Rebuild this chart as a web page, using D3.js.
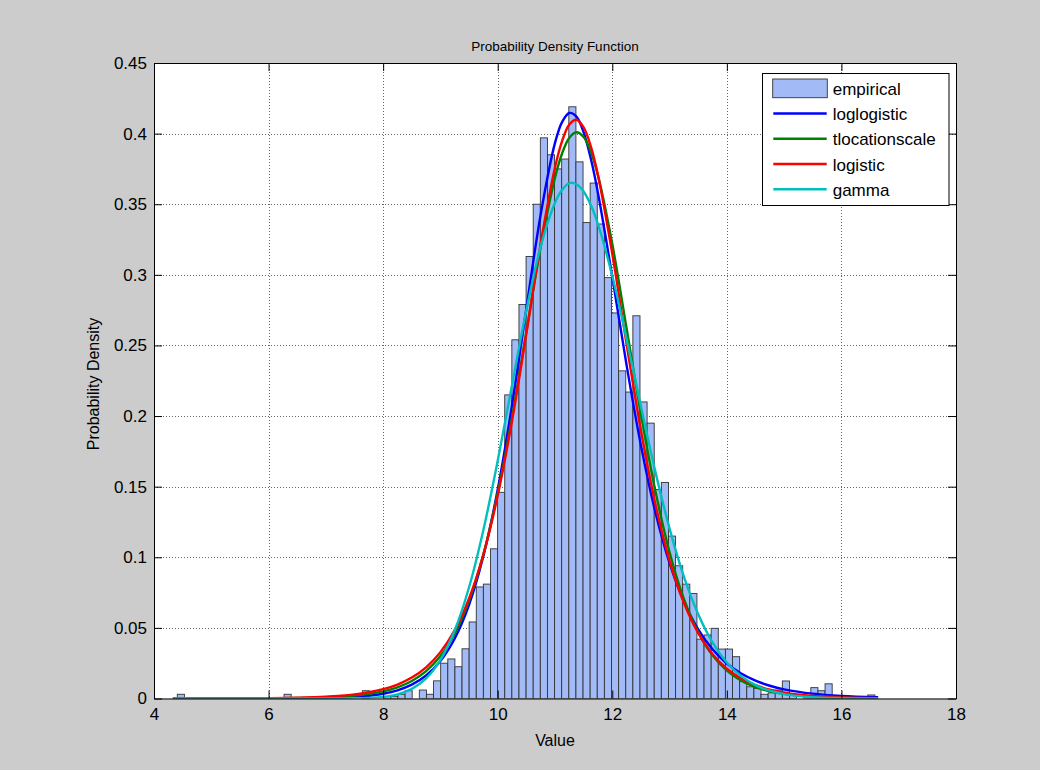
<!DOCTYPE html>
<html><head><meta charset="utf-8">
<script src="https://cdn.jsdelivr.net/npm/d3@7"></script>
<style>
html,body{margin:0;padding:0;background:#fff;}
svg{display:block;font-family:"Liberation Sans",Arial,Helvetica,sans-serif;}
</style></head><body>
<svg id="chart" width="1052" height="780"></svg>
<script>
// ---------- data ----------
const binStart = 4.4066;
const binWidth = 0.12426;
const binDensity = [
  0.003,0,0,0,0,0,0,0,0,0,
  0,0,0,0,0,0.003,0,0,0,0,
  0,0,0,0,0,0,0.0055,0,0,0.0015,
  0.0015,0.003,0.0055,0,0.006,0.003,0.0125,0.025,0.028,0.0225,
  0.0352,0.0542,0.079,0.081,0.106,0.146,0.215,0.254,0.279,0.313,
  0.350,0.397,0.385,0.375,0.382,0.419,0.380,0.337,0.365,0.336,
  0.298,0.273,0.232,0.217,0.271,0.21,0.195,0.148,0.153,0.115,
  0.094,0.081,0.0744,0.042,0.045,0.0497,0.035,0.035,0.0296,0.012,
  0.0083,0.0072,0.003,0.004,0.006,0.0124,0.003,0,0.002,0.0077,
  0.0055,0.0104,0.001,0,0,0,0,0.0025
];
const fitX = [4.33,5,5.5,6,6.5,7,7.5,7.75,8,8.25,8.5,8.75,9,9.25,9.5,9.75,10,10.25,10.5,10.75,
  11,11.125,11.25,11.375,11.5,11.625,11.75,12,12.25,12.5,12.75,13,13.25,13.5,13.75,14,14.25,14.5,14.75,15,15.5,16,16.64];
const loglogisticY = [0,0.000001,0.000004,0.00002,0.00008,0.00031,0.00107,0.00191,0.00336,0.00579,
  0.0098,0.01628,0.02659,0.04252,0.06638,0.10088,0.14798,0.20778,0.27604,0.34275,
  0.39345,0.4083,0.4146,0.412,0.4009,0.38237,0.35797,0.29859,0.23597,0.17917,0.1323,0.09588,0.06874,
  0.04898,0.03482,0.02476,0.01764,0.01261,0.00904,0.00651,0.00342,0.00183,0.00085];
const tlocationscaleY = [0.000016,0.000041,0.000083,0.000176,0.00039,0.00089,0.00209,0.00325,0.00506,0.00792,
  0.0124,0.01937,0.03004,0.04605,0.06941,0.1021,0.1455,0.1991,0.2596,0.3195,
  0.3688,0.3861,0.3971,0.401,0.3976,0.3872,0.3704,0.3218,0.262,0.2015,0.1475,0.1036,0.0705,
  0.0468,0.03056,0.0197,0.01264,0.00807,0.00515,0.0033,0.00138,0.00059,0.00021];
const logisticY = [0.000016,0.000048,0.00011,0.00025,0.00057,0.00129,0.00291,0.00439,0.0066,0.00989,
  0.01481,0.0221,0.03284,0.04847,0.07085,0.10196,0.14369,0.19668,0.25851,0.32225,
  0.37606,0.3949,0.40645,0.4098,0.40441,0.391,0.37058,0.31486,0.25086,0.18981,0.1381,0.09759,0.06773,
  0.04627,0.03133,0.02106,0.01411,0.00941,0.00628,0.00418,0.00185,0.00081,0.00029];
const gammaY = [0,0,0,0,0,0.000009,0.00013,0.00041,0.00116,0.00296,
  0.0068,0.01424,0.02735,0.04831,0.0788,0.11934,0.16832,0.22205,0.2749,0.32002,
  0.35111,0.36027,0.365,0.36413,0.35896,0.34937,0.33586,0.29923,0.25445,0.20687,0.16099,0.12032,0.0863,
  0.05967,0.03976,0.02551,0.01583,0.00951,0.00553,0.00312,0.00091,0.00024,0.00004];
const xTicks = [4,6,8,10,12,14,16,18];
const yTicks = [0,0.05,0.1,0.15,0.2,0.25,0.3,0.35,0.4,0.45];
const legendLabels = ["empirical","loglogistic","tlocationscale","logistic","gamma"];
const seriesColors = ["#0000ff","#008000","#ff0000","#00bfbf"];
const titleText = "Probability Density Function";
const xLabelText = "Value";
const yLabelText = "Probability Density";

// ---------- layout ----------
const svg = d3.select("#chart");
const L = 154, R = 956, T = 63, B = 698.5;
const barFill = "#a2baf6", barEdge = "#333333";
svg.append("rect").attr("x",0).attr("y",0).attr("width",1040).attr("height",770).attr("fill","#cccccc");
const x = d3.scaleLinear().domain([4,18]).range([L,R]);
const y = d3.scaleLinear().domain([0,0.45]).range([B,T]);
svg.append("rect").attr("x",L).attr("y",T).attr("width",R-L).attr("height",B-T).attr("fill","#ffffff");

svg.append("defs").append("clipPath").attr("id","plotclip")
  .append("rect").attr("x",L).attr("y",T).attr("width",R-L).attr("height",B-T);

// grid
const grid = svg.append("g").attr("stroke","#666").attr("stroke-width",1).attr("stroke-dasharray","1,2");
grid.selectAll("line.gx").data(xTicks.slice(1,-1)).join("line").attr("class","gx")
  .attr("x1",d=>Math.round(x(d))+0.5).attr("x2",d=>Math.round(x(d))+0.5).attr("y1",T).attr("y2",B);
grid.selectAll("line.gy").data(yTicks.slice(1,-1)).join("line").attr("class","gy")
  .attr("y1",d=>Math.round(y(d))+0.5).attr("y2",d=>Math.round(y(d))+0.5).attr("x1",L).attr("x2",R);

// bars
const bars = binDensity.map((d,i)=>({i,d})).filter(b=>b.d>0);
svg.append("g").attr("clip-path","url(#plotclip)")
  .selectAll("rect").data(bars).join("rect")
  .attr("x",b=>x(binStart+b.i*binWidth))
  .attr("width",b=>x(binStart+(b.i+1)*binWidth)-x(binStart+b.i*binWidth))
  .attr("y",b=>y(b.d))
  .attr("height",b=>B-y(b.d))
  .attr("fill",barFill).attr("stroke",barEdge).attr("stroke-width",0.9);

// curves
const line = d3.line().x((d,i)=>x(fitX[i])).y(d=>y(d)).curve(d3.curveCatmullRom.alpha(0.5));
const curveG = svg.append("g").attr("clip-path","url(#plotclip)");
[loglogisticY,tlocationscaleY,logisticY,gammaY].forEach((arr,k)=>{
  curveG.append("path").attr("d",line(arr)).attr("fill","none")
    .attr("stroke",seriesColors[k]).attr("stroke-width",2.4).attr("stroke-linejoin","round");
});

// axes
function styleAxis(g){
  g.select(".domain").attr("stroke","#000").attr("stroke-width",1);
  g.selectAll(".tick line").attr("stroke","#000").attr("stroke-width",1);
  g.selectAll(".tick text").attr("fill","#000").attr("font-size","17px")
    .attr("font-family","'Liberation Sans',Arial,sans-serif");
}
svg.append("g").attr("transform",`translate(0,${B})`)
  .call(d3.axisBottom(x).tickValues(xTicks).tickSize(-8).tickSizeOuter(0).tickPadding(9).tickFormat(d3.format("d")))
  .call(styleAxis);
svg.append("g").attr("transform",`translate(0,${T})`)
  .call(d3.axisTop(x).tickValues(xTicks).tickSize(-8).tickSizeOuter(0).tickFormat(""))
  .call(styleAxis);
svg.append("g").attr("transform",`translate(${L},0)`)
  .call(d3.axisLeft(y).tickValues(yTicks).tickSize(-8).tickSizeOuter(0).tickPadding(7)
    .tickFormat(d=>String(+d.toFixed(2))))
  .call(styleAxis);
svg.append("g").attr("transform",`translate(${R},0)`)
  .call(d3.axisRight(y).tickValues(yTicks).tickSize(-8).tickSizeOuter(0).tickFormat(""))
  .call(styleAxis);

// labels
svg.append("text").attr("x",(L+R)/2).attr("y",51).attr("text-anchor","middle")
  .attr("font-size","13.5px").attr("fill","#000").text(titleText);
svg.append("text").attr("x",(L+R)/2).attr("y",746).attr("text-anchor","middle")
  .attr("font-size","16px").attr("fill","#000").text(xLabelText);
svg.append("text").attr("transform",`translate(99,${384}) rotate(-90)`).attr("text-anchor","middle")
  .attr("font-size","16px").attr("fill","#000").text(yLabelText);

// legend
const lg = svg.append("g");
lg.append("rect").attr("x",762.5).attr("y",73.5).attr("width",186.5).attr("height",132)
  .attr("fill","#fff").attr("stroke","#000").attr("stroke-width",1);
legendLabels.forEach((lab,k)=>{
  const cy = 88.3 + k*25.25;
  if(k===0){
    lg.append("rect").attr("x",772.7).attr("y",cy-9.3).attr("width",54.6).attr("height",18.7)
      .attr("fill",barFill).attr("stroke",barEdge).attr("stroke-width",0.9);
  } else {
    lg.append("line").attr("x1",773.3).attr("x2",826.7).attr("y1",cy).attr("y2",cy)
      .attr("stroke",seriesColors[k-1]).attr("stroke-width",2.4);
  }
  lg.append("text").attr("x",832.7).attr("y",cy+6.5).attr("font-size","17px").attr("fill","#000").text(lab);
});
</script>
</body></html>
